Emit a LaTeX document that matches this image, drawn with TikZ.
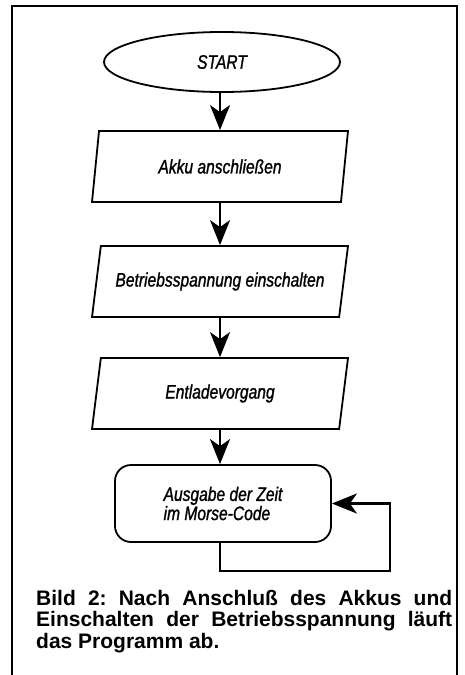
\documentclass[tikz,border=0pt]{standalone}
\usepackage{fontspec}
\setmainfont{Liberation Sans}
\newfontfamily\flowfont[FakeStretch=0.8,FakeBold=1.2]{Liberation Sans}
\usetikzlibrary{shapes.geometric,arrows.meta}

\tikzset{
  flowtext/.style={font=\flowfont\itshape\fontsize{19.5pt}{16.5pt}\selectfont},
  terminal/.style={ellipse, draw, line width=1.8pt, flowtext,
    minimum width=236pt, minimum height=60pt},
  iobox/.style={trapezium, trapezium left angle=64, trapezium right angle=116,
    trapezium stretches body, draw, line width=1.8pt, flowtext, inner sep=0pt,
    minimum width=256pt, minimum height=71pt},
  procbox/.style={rectangle, rounded corners=16pt, draw, line width=1.8pt,
    flowtext, align=left, minimum width=216pt, minimum height=77pt},
  flow/.style={line width=2.4pt, -{Stealth[length=25pt,width=20pt,inset=7pt]}}
}

\begin{document}
\frenchspacing
\begin{tikzpicture}[x=1pt,y=-1pt]
        \useasboundingbox (0,0) rectangle (464,675);

        % ---- frame, open at the bottom ------------------
        \draw[line width=1.5pt] (12,675) -- (12,6) -- (457,6) -- (457,675);

        % ---- flowchart boxes ----------------------------
        \node[terminal] (start)   at (222,62)    {START};
        \node[iobox]    (akku)    at (220,166.5) {Akku anschließen};
        \node[iobox]    (spannung) at (220,281.5) {Betriebsspannung einschalten};
        \node[iobox]    (entladen) at (220,393.5) {Entladevorgang};
        \node[procbox]  (morse)   at (223,503.5) {Ausgabe der Zeit\\im Morse-Code};

        % ---- arrows -------------------------------------
        \draw[flow] (akku.north |- start.south) -- (akku.north);
        \draw[flow] (akku.south)     -- (akku.south |- spannung.north);
        \draw[flow] (spannung.south) -- (spannung.south |- entladen.north);
        \draw[flow] (entladen.south) -- (entladen.south |- morse.north);

        % ---- loop back into the output box --------------
        \coordinate (loop) at (390,571);
        \draw[flow] (entladen.south |- morse.south) |- (loop) |- (morse.east);

        % ---- caption ------------------------------------
        \node[anchor=north west, inner sep=0pt, text width=416pt, align=justify,
              font=\bfseries\fontsize{21pt}{21.5pt}\selectfont] (caption) at (36,590)
              {Bild 2: Nach Anschluß des Akkus und\linebreak
               Einschalten der Betriebsspannung läuft\linebreak
               das Programm ab.};
\end{tikzpicture}
\end{document}
